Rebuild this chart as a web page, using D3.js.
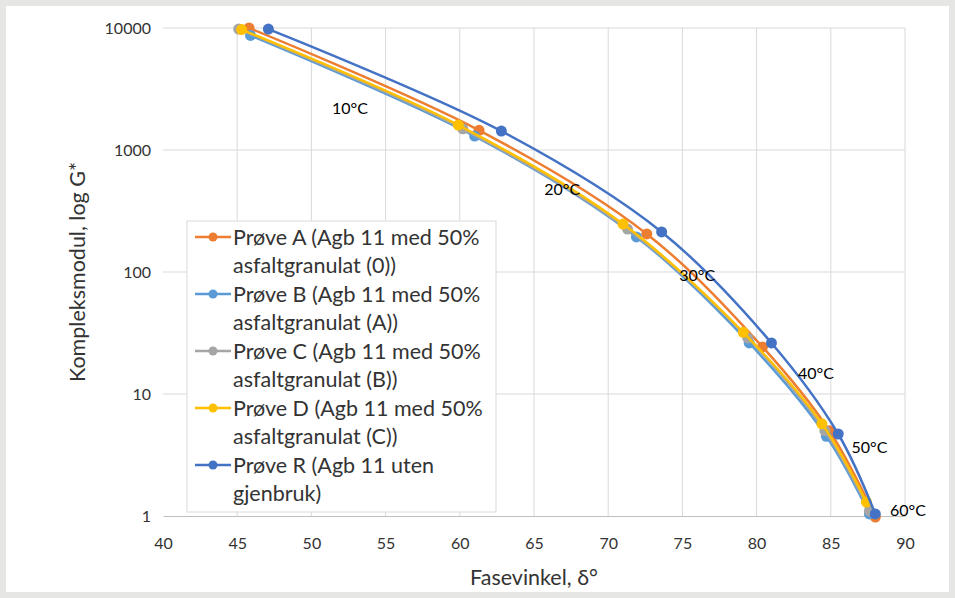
<!DOCTYPE html>
<html>
<head>
<meta charset="utf-8">
<script src="https://cdn.jsdelivr.net/npm/d3@7"></script>
<style>
  body { margin: 0; background: #e6e6e4; }
  svg { display: block; }
  text { font-family: Lato, "Liberation Sans", sans-serif; }
</style>
</head>
<body>
<div id="chart"></div>
<script>
// data: fasevinkel (deg) and G* per temperature step
let temps = ['10°C', '20°C', '30°C', '40°C', '50°C', '60°C'];
let seriesNames = [
    ['Prøve A (Agb 11 med 50%', 'asfaltgranulat (0))'],
    ['Prøve B (Agb 11 med 50%', 'asfaltgranulat (A))'],
    ['Prøve C (Agb 11 med 50%', 'asfaltgranulat (B))'],
    ['Prøve D (Agb 11 med 50%', 'asfaltgranulat (C))'],
    ['Prøve R (Agb 11 uten', 'gjenbruk)']
];
let colorsList = ['#ED7D31', '#5B9BD5', '#A5A5A5', '#FFC000', '#4472C4'];

let phaseA = [45.8, 61.3, 72.6, 80.4, 84.9, 88.0];
let modA = [10000, 1450, 205, 24.3, 5.0, 0.98];
let phaseB = [45.9, 61.0, 71.9, 79.5, 84.7, 87.6];
let modB = [8700, 1300, 194, 26.2, 4.5, 1.04];
let phaseC = [45.1, 60.2, 71.3, 79.4, 84.6, 87.6];
let modC = [9800, 1490, 225, 28.8, 5.0, 1.1];
let phaseD = [45.3, 59.9, 71.0, 79.1, 84.4, 87.4];
let modD = [9700, 1600, 247, 32, 5.7, 1.3];
let phaseR = [47.1, 62.8, 73.6, 81.0, 85.5, 88.0];
let modR = [9800, 1430, 213, 26.2, 4.7, 1.04];

// where the temperature notes sit (data units)
let tempX = [52.6, 66.9, 76.0, 84.0, 87.6, 90.2];
let tempY = [2210, 488, 96, 15.0, 3.7, 1.13];

let xTicks = [40, 45, 50, 55, 60, 65, 70, 75, 80, 85, 90];
let yTicks = [1, 10, 100, 1000, 10000];

let phases = [phaseA, phaseB, phaseC, phaseD, phaseR];
let mods = [modA, modB, modC, modD, modR];
let series = phases.map(function (p, i) {
    return {
        name: seriesNames[i],
        color: colorsList[i],
        points: p.map(function (x, j) { return { x: x, y: mods[i][j] }; })
    };
});

let width = 955, height = 598;
let margin = { left: 163, right: 50, top: 28, bottom: 82 };

let svg = d3.select('#chart')
    .append('svg')
    .attr('width', width)
    .attr('height', height);

// white chart sheet
svg.append('rect')
    .attr('x', 6).attr('y', 6)
    .attr('width', width - 12).attr('height', height - 12)
    .attr('fill', '#ffffff');

let x = d3.scaleLinear().domain([40, 90]).range([margin.left, width - margin.right]);
let y = d3.scaleLog().domain([1, 10000]).range([height - margin.bottom, margin.top]);

// gridlines
svg.append('g').selectAll('line')
    .data(xTicks.slice(1))
    .enter()
    .append('line')
    .attr('x1', d => x(d)).attr('x2', d => x(d))
    .attr('y1', y(1)).attr('y2', y(10000))
    .style('stroke', '#d9d9d9').style('stroke-width', 1);

svg.append('g').selectAll('line')
    .data(yTicks.slice(1))
    .enter()
    .append('line')
    .attr('x1', x(40)).attr('x2', x(90))
    .attr('y1', d => y(d)).attr('y2', d => y(d))
    .style('stroke', '#d9d9d9').style('stroke-width', 1);

// axes
let xAxis = svg.append('g')
    .attr('transform', 'translate(0,' + y(1) + ')')
    .call(d3.axisBottom(x).tickValues(xTicks).tickSize(0).tickPadding(22));
xAxis.select('.domain').style('stroke', '#bfbfbf');
xAxis.selectAll('text').style('font-size', '16px').style('fill', '#333333')
    .style('font-family', 'Lato, sans-serif');

let yAxis = svg.append('g')
    .attr('transform', 'translate(' + x(40) + ',0)')
    .call(d3.axisLeft(y).tickValues(yTicks).tickFormat(d3.format('d')).tickSize(0).tickPadding(12));
yAxis.select('.domain').remove();
yAxis.selectAll('text').style('font-size', '16px').style('fill', '#333333')
    .style('font-family', 'Lato, sans-serif');

svg.append('text')
    .attr('x', (x(40) + x(90)) / 2)
    .attr('y', 585)
    .attr('text-anchor', 'middle')
    .style('font-size', '21.5px')
    .style('fill', '#333333')
    .text('Fasevinkel, δ°');

svg.append('text')
    .attr('transform', 'translate(85,' + ((y(1) + y(10000)) / 2) + ') rotate(-90)')
    .attr('text-anchor', 'middle')
    .style('font-size', '21.5px')
    .style('fill', '#333333')
    .text('Kompleksmodul, log G*');

// lines + markers
let line = d3.line()
    .x(d => x(d.x))
    .y(d => y(d.y))
    .curve(d3.curveCatmullRom.alpha(0.5));

let groups = svg.selectAll('.series')
    .data(series)
    .enter()
    .append('g')
    .attr('class', 'series');

groups.append('path')
    .attr('d', d => line(d.points))
    .style('fill', 'none')
    .style('stroke', d => d.color)
    .style('stroke-width', 2.5);

groups.selectAll('circle')
    .data(d => d.points.map(p => ({ x: p.x, y: p.y, color: d.color })))
    .enter()
    .append('circle')
    .attr('cx', d => x(d.x))
    .attr('cy', d => y(d.y))
    .attr('r', 5.5)
    .style('fill', d => d.color);

// temperature notes
svg.append('g').selectAll('text')
    .data(temps)
    .enter()
    .append('text')
    .attr('x', (d, i) => x(tempX[i]))
    .attr('y', (d, i) => y(tempY[i]))
    .attr('text-anchor', 'middle')
    .attr('dominant-baseline', 'central')
    .style('font-size', '16px')
    .style('fill', '#000000')
    .text(d => d);

// legend
let legend = svg.append('g').attr('transform', 'translate(187,221)');
legend.append('rect')
    .attr('width', 309).attr('height', 291)
    .attr('fill', '#ffffff')
    .attr('stroke', '#d9d9d9');

let items = legend.selectAll('.item')
    .data(series)
    .enter()
    .append('g')
    .attr('class', 'item')
    .attr('transform', (d, i) => 'translate(0,' + (16 + i * 57) + ')');

items.append('line')
    .attr('x1', 8).attr('x2', 44)
    .attr('y1', 0).attr('y2', 0)
    .style('stroke', d => d.color)
    .style('stroke-width', 2.5);
items.append('circle')
    .attr('cx', 26).attr('cy', 0).attr('r', 4.5)
    .style('fill', d => d.color);

items.append('text')
    .attr('x', 46)
    .style('font-size', '21.5px')
    .style('fill', '#333333')
    .selectAll('tspan')
    .data(d => d.name)
    .enter()
    .append('tspan')
    .attr('x', 46)
    .attr('y', (d, i) => i * 28.5)
    .attr('dy', '0.35em')
    .text(d => d);
</script>
</body>
</html>
